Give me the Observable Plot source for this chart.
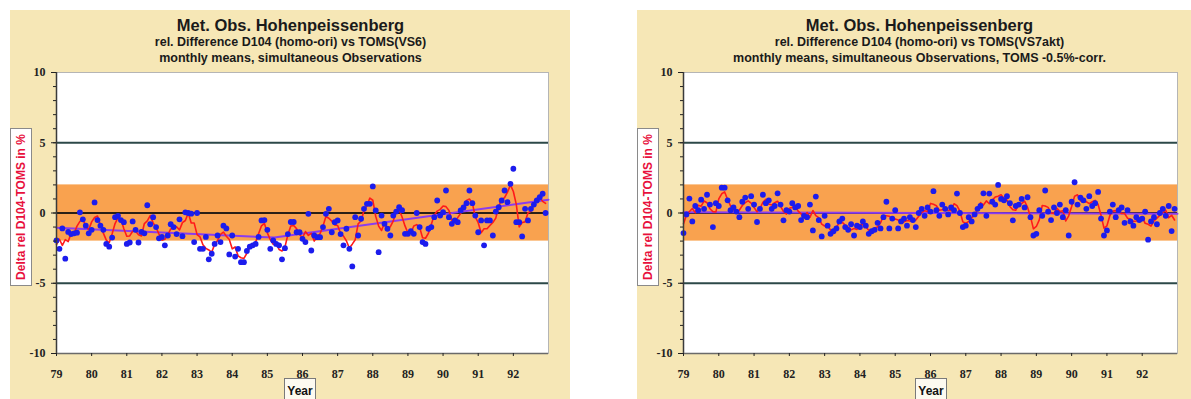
<!DOCTYPE html>
<html><head><meta charset="utf-8">
<script src="https://cdn.jsdelivr.net/npm/d3@7"></script>
<script src="https://cdn.jsdelivr.net/npm/@observablehq/plot@0.6"></script>
<style>
html,body{margin:0;padding:0;background:#fff;width:1191px;height:399px;overflow:hidden;position:relative;}
.panel{position:absolute;background:#f6e7b6;}
.title{position:absolute;width:500px;text-align:center;font-family:"Liberation Sans",Arial,sans-serif;font-weight:bold;color:#1a1a1a;white-space:nowrap;line-height:1;}
.ybox{position:absolute;background:#fff;border:1px solid #8a8a8a;box-sizing:border-box;}
.ybox span{position:absolute;left:50%;top:50%;transform:translate(-50%,-50%) rotate(-90deg);white-space:nowrap;font:bold 12px "Liberation Sans",Arial,sans-serif;color:#e8103c;line-height:1;}
.xbox{position:absolute;background:#fdfaf0;border:1px solid #7a7a7a;box-sizing:border-box;}
.xbox span{position:absolute;left:0;right:0;top:6px;text-align:center;font:bold 12px "Liberation Sans",Arial,sans-serif;color:#111;line-height:1;}
.chart{position:absolute;}
svg.chart text{font-family:"Liberation Serif","Times New Roman",serif !important;font-weight:bold !important;font-size:12px !important;}
</style>
</head><body>
<script>
// ---- data ----
const yearLabels = ["79","80","81","82","83","84","85","86","87","88","89","90","91","92"];
const xDomain = [79, 93];
const yDomain = [-10, 10];
const yMajorTicks = [-10, -5, 0, 5, 10];
const bandLimits = [-2, 2];
const refLines = [-5, 5];

// monthly relative differences D104 vs TOMS(VS6), Jan 1979 .. Dec 1992 (%)
const vs6 = [
  -1.95,-2.55,-1.1,-3.25,-1.35,-1.5,-1.45,-1.4,0.05,-0.45,-0.9,-1.45,
  -1.2,0.75,-0.5,-0.9,-1.2,-2.2,-2.4,-1.75,-0.3,-0.2,-0.5,-0.65,
  -2.2,-2.1,-0.6,-1.2,-2.1,-1.35,-1.45,0.55,-0.8,-0.3,-1.0,-1.8,
  -1.7,-2.3,-1.6,-0.8,-1.0,-1.5,-0.45,-1.65,0.05,0.0,-0.05,-2.07,
  0.0,-2.55,-2.55,-1.7,-3.3,-2.9,-2.2,-1.6,-2.07,-0.9,-1.1,-2.95,
  -1.6,-3.1,-2.55,-3.5,-3.5,-2.7,-2.4,-2.3,-2.2,-1.7,-0.53,-0.5,
  -1.2,-2.55,-1.95,-2.2,-2.3,-3.3,-2.5,-1.5,-0.64,-0.64,-1.37,-1.37,
  -1.84,-2.07,-0.06,-2.67,-1.6,-1.72,-1.72,-1.0,-0.06,0.3,-1.37,-0.65,
  -0.53,-1.5,-2.3,-1.12,-2.55,-3.8,-0.3,-1.6,-0.41,0.3,0.65,0.65,
  1.89,0.18,-2.79,-0.18,-0.77,-1.12,-1.6,-0.18,0.1,0.41,0.2,-1.48,
  -1.48,-1.3,-1.48,0.0,-1.0,-2.07,-2.2,-1.12,-1.0,-0.3,0.89,-0.18,
  0.06,1.6,-0.3,-0.77,-0.53,-0.65,0.18,0.4,0.7,1.6,0.7,-0.18,
  -1.37,-0.53,-2.3,-0.53,-0.53,-1.6,0.1,0.41,0.89,1.6,0.77,2.08,
  3.15,-0.65,-0.65,-1.67,0.3,-0.53,0.3,0.6,0.89,1.12,1.37,0.0
];
// monthly relative differences D104 vs TOMS(VS7akt), TOMS -0.5% corrected (%)
const vs7 = [
  -1.43,-0.1,1.03,-0.6,0.5,0.2,0.95,0.3,1.3,0.6,-1.0,0.7,
  0.5,1.8,1.8,0.9,0.2,0.4,0.1,-0.3,0.8,1.1,0.3,1.2,
  0.6,-0.64,0.3,1.3,0.7,0.9,0.3,0.5,1.4,0.6,-0.52,0.2,
  0.1,0.7,0.4,0.5,-0.5,-0.2,-0.3,0.6,-1.24,1.17,-0.5,-1.67,
  -0.2,-0.9,-1.48,-1.3,-1.1,-0.6,-0.4,-1.0,-1.2,-0.8,-1.6,-0.9,
  -1.0,-0.6,-0.9,-1.48,-1.3,-1.2,-0.7,-1.1,-0.3,0.8,-1.1,-0.4,
  0.2,-1.1,-0.6,-0.4,-0.9,-0.3,-0.5,-1.0,0.0,0.3,-0.2,0.4,
  0.1,1.55,0.2,-0.2,0.6,0.3,-0.1,0.4,0.2,1.38,0.0,-1.0,
  -0.9,-0.3,-0.6,-0.1,0.3,0.5,1.4,-0.2,1.38,0.8,0.6,2.0,
  1.0,0.9,1.2,0.7,-0.52,0.5,0.6,1.0,0.4,1.12,-0.3,-1.6,
  -1.48,0.2,-0.2,1.6,0.1,-0.5,0.4,0.0,0.6,-0.3,0.2,-1.6,
  0.8,2.19,0.6,1.1,0.9,0.3,1.2,0.5,0.7,1.5,-0.4,-1.6,
  -1.24,0.1,0.6,-0.3,0.2,0.4,-0.7,0.2,-0.6,-0.9,-0.3,-0.5,
  -0.4,0.1,-1.9,-0.6,-0.3,-0.8,0.0,0.3,-0.2,0.5,-1.29,0.3
];
// trend lines
const trendVs6Years = [79, 85.2, 93];
const trendVs6Values = [-1.05, -1.75, 0.95];
const trendVs7Years = [79, 93];
const trendVs7Values = [0.05, -0.05];

const titleMain = "Met. Obs. Hohenpeissenberg";
const subtitlesVs6 = ["rel. Difference D104 (homo-ori) vs TOMS(VS6)", "monthly means, simultaneous Observations"];
const subtitlesVs7 = ["rel. Difference D104 (homo-ori) vs TOMS(VS7akt)", "monthly means, simultaneous Observations, TOMS -0.5%-corr."];
const yLabel = "Delta rel D104-TOMS in %";
const xLabel = "Year";

// ---- drawing ----
const COLORS = {band: "#f9a24f", ref: "#2c4848", zero: "#2b2016", red: "#ff1a1a", trend: "#8a3cf0", dot: "#1c1ced"};
const AXIS_FONT = {fontFamily: "'Liberation Serif','Times New Roman',serif", fontWeight: "bold", fontSize: 12, fill: "#222"};

function el(cls, css) {
  const d = document.createElement("div");
  d.className = cls;
  Object.assign(d.style, css);
  document.body.appendChild(d);
  return d;
}

function panel({values, trendYears, trendValues, subtitles, bgLeft, bgWidth, svgLeft, svgWidth, marginLeft, marginRight, titleCenter, xboxLeft}) {
  el("panel", {left: bgLeft + "px", top: "10px", width: bgWidth + "px", height: "389px"});
  const t1 = el("title", {left: (titleCenter - 250) + "px", top: "16.7px", fontSize: "16.5px"}); t1.textContent = titleMain;
  const t2 = el("title", {left: (titleCenter - 250) + "px", top: "36.4px", fontSize: "12.5px"}); t2.textContent = subtitles[0];
  const t3 = el("title", {left: (titleCenter - 250) + "px", top: "52.4px", fontSize: "12.5px"}); t3.textContent = subtitles[1];

  const rows = values.map((v, i) => ({t: xDomain[0] + i / 12, v}));
  const trend = trendYears.map((t, i) => ({t, v: trendValues[i]}));
  const yMinor = d3.range(yDomain[0], yDomain[1] + 1);

  const chart = Plot.plot({
    width: svgWidth, height: 330,
    marginLeft, marginRight, marginTop: 12, marginBottom: 37,
    style: {background: "transparent", color: "#222", overflow: "visible"},
    x: {domain: xDomain, label: null},
    y: {domain: yDomain, label: null},
    marks: [
      Plot.frame({fill: "white", stroke: "#b5b5b5"}),
      Plot.rect([bandLimits], {y1: d => d[0], y2: d => d[1], fill: COLORS.band}),
      Plot.ruleY(refLines, {stroke: COLORS.ref, strokeWidth: 2}),
      Plot.ruleY([0], {stroke: COLORS.zero, strokeWidth: 2}),
      Plot.line(trend, {x: "t", y: "v", stroke: COLORS.trend, strokeWidth: 2}),
      Plot.lineY(rows, Plot.windowY({k: 3}, {x: "t", y: "v", stroke: COLORS.red, strokeWidth: 1.6})),
      Plot.dot(rows, {x: "t", y: "v", r: 2.9, fill: COLORS.dot}),
      Plot.ruleX([xDomain[0]], {stroke: "#3a3a3a", strokeWidth: 1.5}),
      Plot.ruleY([yDomain[0]], {stroke: "#6a6a6a", strokeWidth: 1.5}),
      Plot.axisY({ticks: yMinor, tickSize: 3, tickFormat: () => "", label: null}),
      Plot.axisY({ticks: yMajorTicks, tickSize: 5, tickPadding: 6, tickFormat: d => String(d), label: null, ...AXIS_FONT}),
      Plot.axisX({ticks: yearLabels.map(Number), tickSize: 3, tickPadding: 13, label: null,
        tickFormat: d => yearLabels[yearLabels.indexOf(String(d))], ...AXIS_FONT})
    ]
  });
  chart.classList.add("chart");
  chart.style.left = svgLeft + "px";
  chart.style.top = "60px";
  chart.style.position = "absolute";
  document.body.appendChild(chart);

  const yb = el("ybox", {left: bgLeft + "px", top: "128px", width: "22px", height: "158px"});
  const ys = document.createElement("span"); ys.textContent = yLabel; yb.appendChild(ys);
  const xb = el("xbox", {left: xboxLeft + "px", top: "378px", width: "32px", height: "23px"});
  const xs = document.createElement("span"); xs.textContent = xLabel; xb.appendChild(xs);
}

panel({values: vs6, trendYears: trendVs6Years, trendValues: trendVs6Values, subtitles: subtitlesVs6,
  bgLeft: 10, bgWidth: 560, svgLeft: 10, svgWidth: 568, marginLeft: 46, marginRight: 30, titleCenter: 290.5, xboxLeft: 284});
panel({values: vs7, trendYears: trendVs7Years, trendValues: trendVs7Values, subtitles: subtitlesVs7,
  bgLeft: 637, bgWidth: 554, svgLeft: 637, svgWidth: 554, marginLeft: 46, marginRight: 14, titleCenter: 919.5, xboxLeft: 915});
</script>
</body></html>
